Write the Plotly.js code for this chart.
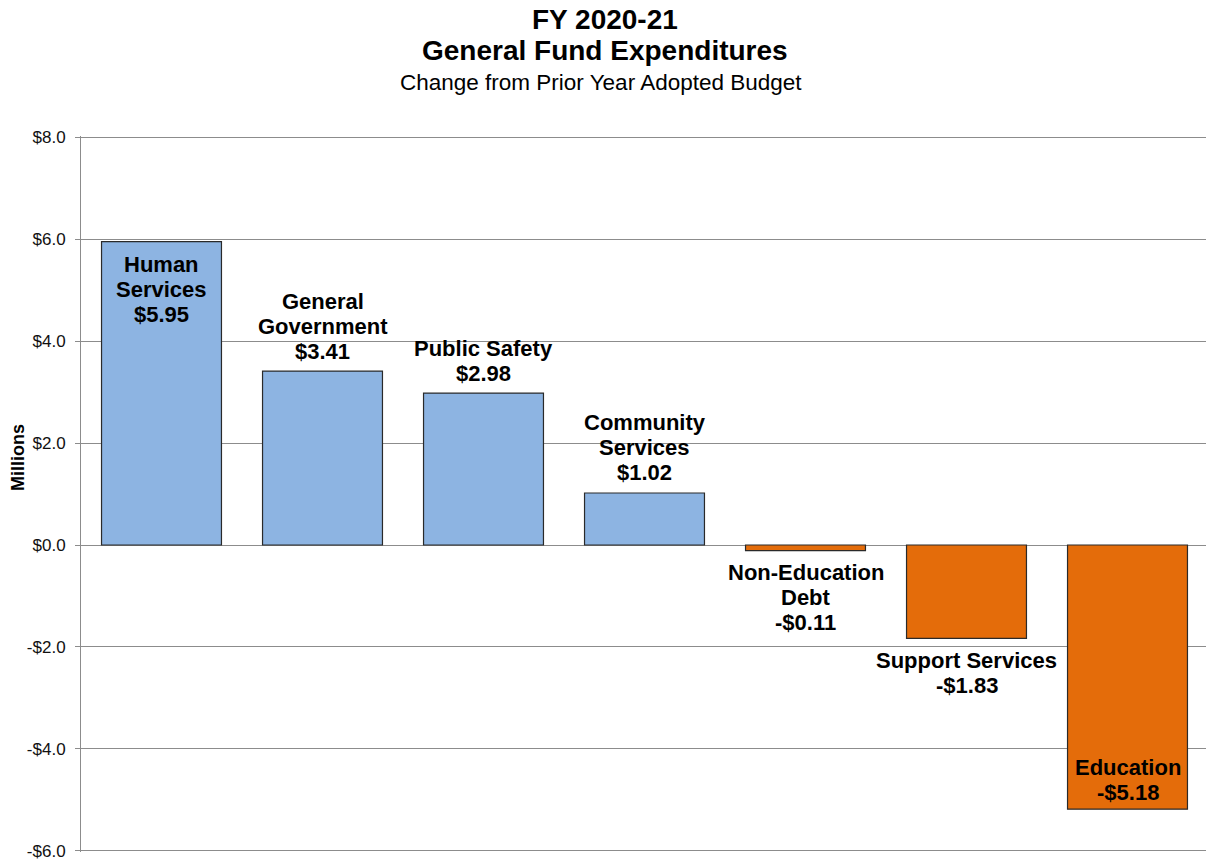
<!DOCTYPE html>
<html><head><meta charset="utf-8">
<script src="https://cdn.plot.ly/plotly-3.0.1.min.js"></script>
<style>html,body{margin:0;padding:0;overflow:hidden;background:#fff}#chart{width:1208px;height:865px}</style>
</head><body><div id="chart"></div>
<script>
// ---- data ----
const categories = ["Human Services","General Government","Public Safety","Community Services","Non-Education Debt","Support Services","Education"];
const labelLines = [["Human","Services"],["General","Government"],["Public Safety"],["Community","Services"],["Non-Education","Debt"],["Support Services"],["Education"]];
const changeMillions = [5.95, 3.41, 2.98, 1.02, -0.11, -1.83, -5.18];
const yTickValues = [-6, -4, -2, 0, 2, 4, 6, 8];
const yTickLabels = ["-$6.0","-$4.0","-$2.0","$0.0","$2.0","$4.0","$6.0","$8.0"];
const titleLines = ["FY 2020-21", "General Fund Expenditures"];
const subtitle = "Change from Prior Year Adopted Budget";
const yAxisLabel = "Millions";

// ---- styles ----
const labelInside = [true, false, false, false, false, false, true];
const posColor = "#8DB4E2", negColor = "#E46C0A";
const gridColor = "#8c8c8c";
const FONT = "Arial, 'Liberation Sans', sans-serif";
const LINE = 25;

function money(v){ return (v < 0 ? "-$" : "$") + Math.abs(v).toFixed(2); }

const trace = {
  type: "bar",
  x: categories,
  y: changeMillions,
  marker: {
    color: changeMillions.map(v => v >= 0 ? posColor : negColor),
    line: {color: "#2a2a2a", width: 1.2}
  },
  hoverinfo: "x+y"
};

const annotations = [];
categories.forEach((c, i) => {
  const v = changeMillions[i];
  const lines = labelLines[i].concat([money(v)]);
  const n = lines.length;
  lines.forEach((t, j) => {
    let ys;
    if (v >= 0 && !labelInside[i]) ys = 20 + LINE * (n - 1 - j);
    else if (v >= 0) ys = -(23 + LINE * j);
    else if (!labelInside[i]) ys = -(22 + LINE * j);
    else ys = 17 + LINE * (n - 1 - j);
    annotations.push({
      x: c, y: v, xref: "x", yref: "y", text: t, showarrow: false,
      yanchor: "middle", xanchor: "center", yshift: ys,
      font: {family: FONT, size: 22, color: "#000", weight: "bold"}
    });
  });
});

annotations.push({
  xref: "paper", yref: "paper", x: 0, y: 0.5504, xshift: -63,
  text: yAxisLabel, textangle: -90, showarrow: false,
  xanchor: "center", yanchor: "middle",
  font: {family: FONT, size: 18, color: "#000", weight: "bold"}
});
// title lines (centres at ~20px and ~51px from top; plot top at 137px)
const titleShifts = [117, 86];
titleLines.forEach((t, k) => {
  annotations.push({
    xref: "paper", yref: "paper", x: 0.465, y: 1, yshift: titleShifts[k],
    text: t, showarrow: false, xanchor: "center", yanchor: "middle",
    font: {family: FONT, size: 28, color: "#000", weight: "bold"}
  });
});
annotations.push({
  xref: "paper", yref: "paper", x: 0.4618, y: 1, yshift: 54,
  text: subtitle, showarrow: false, xanchor: "center", yanchor: "middle",
  font: {family: FONT, size: 22.5, color: "#000"}
});

const layout = {
  width: 1208, height: 865,
  margin: {l: 81, r: 0, t: 136, b: 13, pad: 0},
  paper_bgcolor: "#fff", plot_bgcolor: "#fff",
  showlegend: false,
  bargap: 0.255,
  xaxis: {
    range: [-0.5, 6.5], showticklabels: false, showgrid: false,
    zeroline: false, showline: false, ticks: "", fixedrange: true
  },
  yaxis: {
    range: [-6.02, 8.02], tickmode: "array", tickvals: yTickValues, ticktext: yTickLabels,
    showgrid: true, gridcolor: gridColor, gridwidth: 1,
    zeroline: true, zerolinecolor: gridColor, zerolinewidth: 1,
    showline: true, linecolor: gridColor, linewidth: 1,
    ticks: "outside", ticklen: 5, tickcolor: gridColor,
    ticklabelstandoff: 6,
    tickfont: {family: FONT, size: 17, color: "#111"},
    fixedrange: true
  },
  annotations: annotations
};

Plotly.newPlot("chart", [trace], layout, {displayModeBar: false, staticPlot: true});
</script>
</body></html>
